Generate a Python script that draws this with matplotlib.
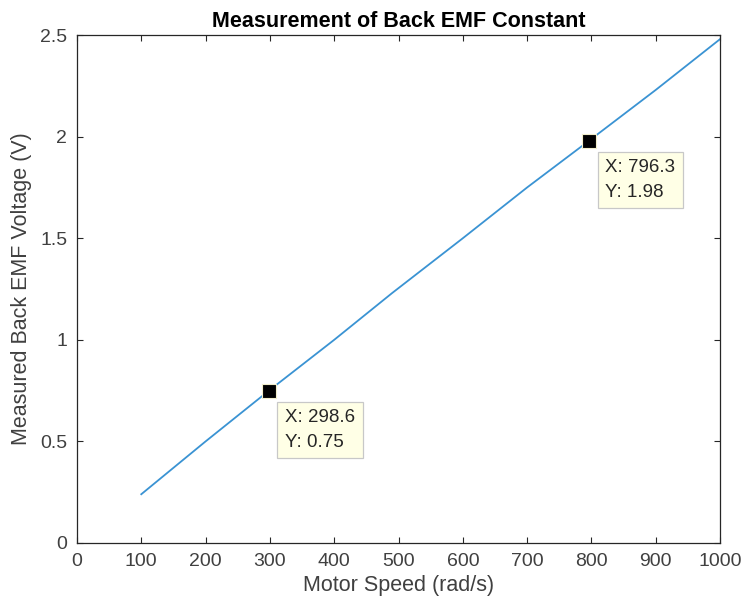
import matplotlib.pyplot as plt

# ================= DATA =================
speed = [100, 200, 298.6, 400, 490, 600, 700, 796.3, 900, 1000]
voltage = [0.24, 0.50, 0.75, 1.00, 1.23, 1.50, 1.75, 1.98, 2.23, 2.48]

tip_x = [298.6, 796.3]
tip_y = [0.75, 1.98]
tip_labels = ["X: 298.6\nY: 0.75", "X: 796.3\nY: 1.98"]

x_ticks = [0, 100, 200, 300, 400, 500, 600, 700, 800, 900, 1000]
y_ticks = [0, 0.5, 1, 1.5, 2, 2.5]
y_tick_labels = ["0", "0.5", "1", "1.5", "2", "2.5"]

# ================= STYLE =================
plt.rcParams["font.family"] = ["Liberation Sans", "DejaVu Sans"]
AX_COLOR = "#262626"
TXT_COLOR = "#404040"
LINE_COLOR = "#3a93d3"

fig = plt.figure(figsize=(7.43, 6.09), dpi=100)
ax = fig.add_axes([0.1036, 0.1084, 0.8655, 0.834])

ax.plot(speed, voltage, color=LINE_COLOR, linewidth=1.3)

# data tips
for x, y, label in zip(tip_x, tip_y, tip_labels):
    ax.plot(x, y, marker="s", markersize=10.5, color="black",
            markeredgecolor="#f2eecb", markeredgewidth=0.8, zorder=5)
    ax.annotate(label, xy=(x, y), xytext=(11.5, -13.5), textcoords="offset points",
                ha="left", va="top", fontsize=13.5, color="#262626",
                linespacing=1.55,
                bbox=dict(boxstyle="square,pad=0.4", facecolor="#ffffe6",
                          edgecolor="#c8c8c8", linewidth=0.9))

# ================= AXES =================
ax.set_xlim(0, 1000)
ax.set_ylim(0, 2.5)
ax.set_xticks(x_ticks)
ax.set_yticks(y_ticks)
ax.set_yticklabels(y_tick_labels)

ax.tick_params(direction="in", length=4, width=0.8, colors=AX_COLOR,
               labelcolor=TXT_COLOR, labelsize=14, top=True, right=True, pad=7)
for spine in ax.spines.values():
    spine.set_color(AX_COLOR)
    spine.set_linewidth(0.9)

ax.set_title("Measurement of Back EMF Constant", fontsize=15.5,
             fontweight="bold", color="black", pad=6)
ax.set_xlabel("Motor Speed (rad/s)", fontsize=15.5, color=TXT_COLOR, labelpad=4)
ax.set_ylabel("Measured Back EMF Voltage (V)", fontsize=15.5, color=TXT_COLOR, labelpad=6)

fig.savefig("out.png", dpi=100)
